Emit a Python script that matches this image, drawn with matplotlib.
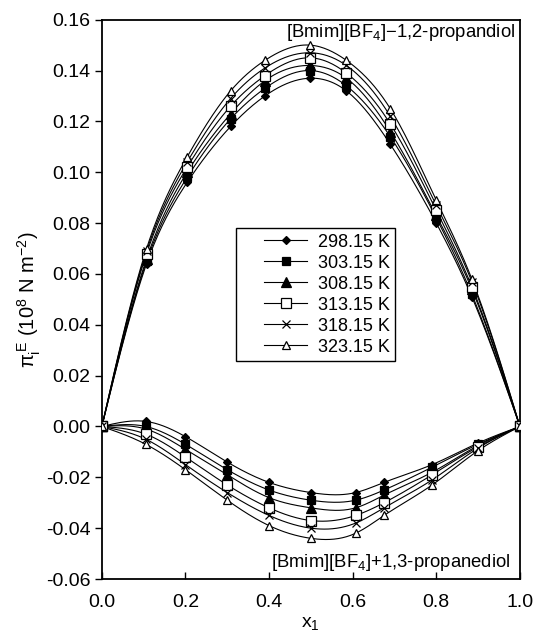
import numpy as np
import matplotlib
matplotlib.use("Agg")
import matplotlib.pyplot as plt
from matplotlib.ticker import MultipleLocator, FormatStrFormatter
from matplotlib.legend_handler import HandlerLine2D

plt.rcParams['font.family'] = ['Liberation Sans', 'DejaVu Sans']
plt.rcParams['mathtext.fontset'] = 'custom'
plt.rcParams['mathtext.rm'] = 'Liberation Sans'
plt.rcParams['mathtext.it'] = 'Liberation Sans'

labels = ["298.15 K", "303.15 K", "308.15 K", "313.15 K", "318.15 K", "323.15 K"]

# [Bmim][BF4] + 1,2-propandiol
x_12 = [0.0, 0.107, 0.204, 0.308, 0.39, 0.499, 0.585, 0.69, 0.80, 0.885, 1.0]
y_12_298 = [0, 0.064, 0.096, 0.118, 0.130, 0.137, 0.132, 0.111, 0.080, 0.051, 0]
y_12_303 = [0, 0.065, 0.098, 0.121, 0.133, 0.140, 0.134, 0.114, 0.082, 0.052, 0]
y_12_308 = [0, 0.066, 0.100, 0.123, 0.136, 0.142, 0.137, 0.116, 0.083, 0.054, 0]
y_12_313 = [0, 0.068, 0.102, 0.126, 0.138, 0.145, 0.139, 0.119, 0.085, 0.055, 0]
y_12_318 = [0, 0.069, 0.104, 0.129, 0.141, 0.147, 0.142, 0.122, 0.087, 0.057, 0]
y_12_323 = [0, 0.070, 0.106, 0.132, 0.144, 0.150, 0.144, 0.125, 0.089, 0.058, 0]

# [Bmim][BF4] + 1,3-propanediol
x_13 = [0.0, 0.105, 0.2, 0.3, 0.4, 0.5, 0.607, 0.675, 0.79, 0.9, 1.0]
y_13_298 = [0, 0.002, -0.004, -0.014, -0.022, -0.026, -0.026, -0.022, -0.015, -0.0065, 0]
y_13_303 = [0, 0.000, -0.007, -0.017, -0.025, -0.029, -0.029, -0.025, -0.016, -0.007, 0]
y_13_308 = [0, -0.001, -0.009, -0.019, -0.028, -0.032, -0.032, -0.027, -0.018, -0.0075, 0]
y_13_313 = [0, -0.003, -0.012, -0.023, -0.032, -0.037, -0.035, -0.030, -0.019, -0.008, 0]
y_13_318 = [0, -0.005, -0.015, -0.026, -0.035, -0.040, -0.038, -0.032, -0.021, -0.0085, 0]
y_13_323 = [0, -0.007, -0.017, -0.029, -0.039, -0.044, -0.042, -0.035, -0.023, -0.0095, 0]

series_12 = [y_12_298, y_12_303, y_12_308, y_12_313, y_12_318, y_12_323]
series_13 = [y_13_298, y_13_303, y_13_308, y_13_313, y_13_318, y_13_323]

styles = [
    dict(marker='D', ms=4.5, mfc='black'),
    dict(marker='s', ms=6, mfc='black'),
    dict(marker='^', ms=6.5, mfc='black'),
    dict(marker='s', ms=6.5, mfc='white'),
    dict(marker='x', ms=5.5, mfc='black'),
    dict(marker='^', ms=6, mfc='white'),
]


def spline(x, y, n=300):
    """Natural cubic spline used only to draw the smooth connecting line."""
    x = np.asarray(x, float)
    y = np.asarray(y, float)
    k = len(x)
    h = np.diff(x)
    A = np.zeros((k, k))
    b = np.zeros(k)
    A[0, 0] = A[-1, -1] = 1
    for i in range(1, k - 1):
        A[i, i - 1] = h[i - 1]
        A[i, i] = 2 * (h[i - 1] + h[i])
        A[i, i + 1] = h[i]
        b[i] = 3 * ((y[i + 1] - y[i]) / h[i] - (y[i] - y[i - 1]) / h[i - 1])
    c = np.linalg.solve(A, b)
    xs = np.linspace(x[0], x[-1], n)
    idx = np.clip(np.searchsorted(x, xs) - 1, 0, k - 2)
    dx = xs - x[idx]
    bb = (y[idx + 1] - y[idx]) / h[idx] - h[idx] * (2 * c[idx] + c[idx + 1]) / 3
    dd = (c[idx + 1] - c[idx]) / (3 * h[idx])
    ys = y[idx] + bb * dx + c[idx] * dx ** 2 + dd * dx ** 3
    return xs, ys


class ShiftedHandler(HandlerLine2D):
    """Legend handle whose line starts a little to the right (extra left padding)."""
    def __init__(self, shift=1.2, **kw):
        super().__init__(**kw)
        self.shift = shift

    def create_artists(self, legend, orig_handle, xdescent, ydescent, width,
                       height, fontsize, trans):
        d = self.shift * fontsize
        return super().create_artists(legend, orig_handle, xdescent - d, ydescent,
                                      width - d, height, fontsize, trans)


fig = plt.figure(figsize=(5.36, 6.36), dpi=100)
ax = fig.add_axes([0.190, 0.0896, 0.780, 0.8794])

for ys, st in zip(series_12, styles):
    sx, sy = spline(x_12, ys)
    ax.plot(sx, sy, color='black', lw=0.8, zorder=2)
    ax.plot(x_12, ys, ls='none', color='black', mec='black', mew=0.9, zorder=3, **st)

handles = []
for ys, st, lab in zip(series_13, styles, labels):
    sx, sy = spline(x_13, ys)
    ax.plot(sx, sy, color='black', lw=0.8, zorder=2)
    ax.plot(x_13, ys, ls='none', color='black', mec='black', mew=0.9, zorder=3, **st)
    h, = ax.plot([], [], color='black', lw=0.8, mec='black', mew=0.9, label=lab, **st)
    handles.append(h)

ax.set_xlim(0, 1.0)
ax.set_ylim(-0.06, 0.16)
ax.xaxis.set_major_locator(MultipleLocator(0.2))
ax.yaxis.set_major_locator(MultipleLocator(0.02))
ax.xaxis.set_major_formatter(FormatStrFormatter('%.1f'))
ax.yaxis.set_major_formatter(FormatStrFormatter('%.2f'))
ax.tick_params(axis='x', direction='in', length=5, width=1, labelsize=14, pad=11)
ax.tick_params(axis='y', direction='out', length=5, width=1, labelsize=14, pad=3)
for sp in ax.spines.values():
    sp.set_linewidth(1.3)

ax.set_xlabel(r'x$_1$', fontsize=14, labelpad=3)
ax.set_ylabel(r'$\pi_i^{\,E}$ (10$^8$ N m$^{-2}$)', fontsize=14.5, labelpad=2)

ax.text(0.988, 0.977, r'[Bmim][BF$_4$]$-$1,2-propandiol', transform=ax.transAxes,
        ha='right', va='center', fontsize=13.3)
ax.text(0.978, 0.03, r'[Bmim][BF$_4$]+1,3-propanediol', transform=ax.transAxes,
        ha='right', va='center', fontsize=13.3)

fs_leg = 13
hl = {h: ShiftedHandler(shift=1.25) for h in handles}
leg = ax.legend(handles=handles, handler_map=hl, loc='upper left',
                bbox_to_anchor=(0.322, 0.627),
                fontsize=fs_leg, frameon=True, fancybox=False, edgecolor='black',
                framealpha=1, handlelength=3.6, labelspacing=0.22, borderpad=0.3,
                handletextpad=0.6, borderaxespad=0)
leg.get_frame().set_linewidth(1.0)

fig.savefig('out.png', dpi=100)
